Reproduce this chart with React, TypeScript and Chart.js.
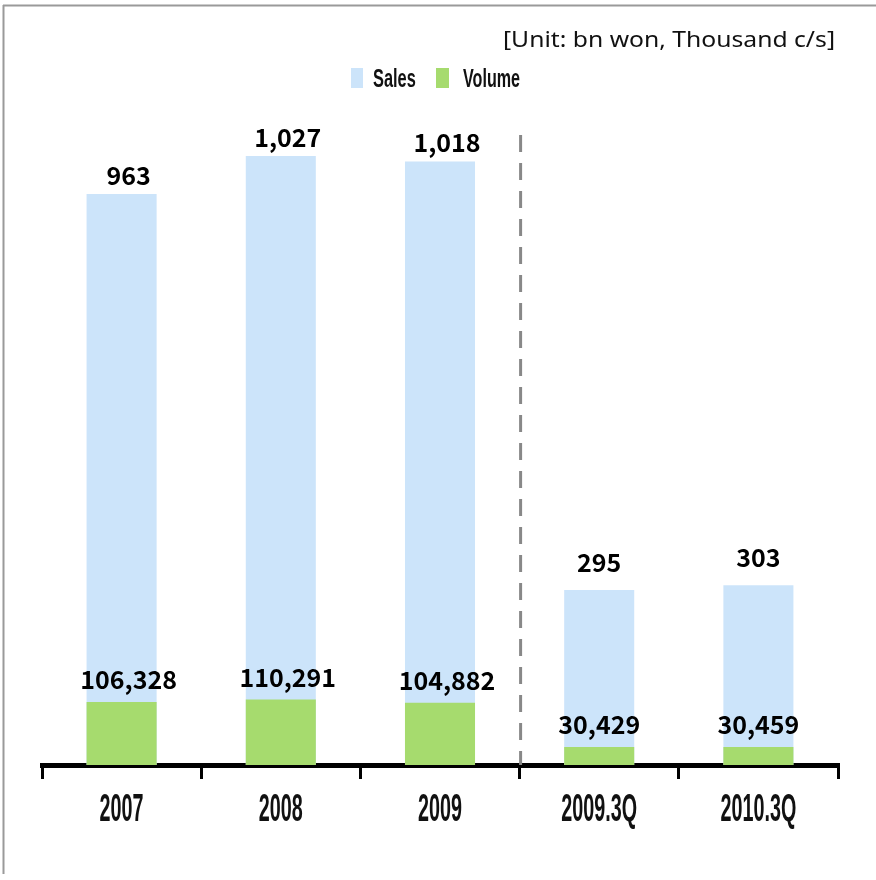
import React, { useEffect, useRef } from "react";
import { Chart, registerables } from "chart.js";

Chart.register(...registerables);

const categories = ["2007", "2008", "2009", "2009.3Q", "2010.3Q"];
const salesValues = [963, 1027, 1018, 295, 303];
const volumeValues = [106328, 110291, 104882, 30429, 30459];
const seriesNames = ["Sales", "Volume"];
const unitLabel = "[Unit: bn won, Thousand c/s]";
const salesMax = 1071;
const volumeMax = 1071000;

const SALES_COLOR = "rgb(204,228,250)";
const VOLUME_COLOR = "rgb(166,219,110)";
const LABEL_FONT = "bold 25px 'Noto Sans CJK KR', 'Noto Sans', sans-serif";
const NARROW_FONT = "'Liberation Sans', Arial, sans-serif";

const isQuarter = (c: string) => c.includes("Q");

function drawNarrow(ctx: CanvasRenderingContext2D, text: string, x: number, y: number, size: number, sx: number, align: "left" | "center") {
  ctx.save();
  ctx.translate(x, y);
  ctx.scale(sx, 1);
  ctx.font = `bold ${size}px ${NARROW_FONT}`;
  ctx.textAlign = align;
  ctx.textBaseline = "alphabetic";
  ctx.fillStyle = "#111";
  ctx.fillText(text, 0, 0);
  ctx.restore();
}

const decorPlugin = {
  id: "decor",
  beforeDraw(chart: any) {
    const ctx = chart.ctx as CanvasRenderingContext2D;
    ctx.save();
    ctx.strokeStyle = "#9a9a9a";
    ctx.lineWidth = 2;
    ctx.beginPath();
    ctx.moveTo(3, 5.5);
    ctx.lineTo(876, 5.5);
    ctx.moveTo(3.5, 5);
    ctx.lineTo(3.5, 874);
    ctx.stroke();
    ctx.restore();
  },
  beforeDatasetsDraw(chart: any) {
    const ctx = chart.ctx as CanvasRenderingContext2D;
    const xs = chart.scales.x;
    const sep = categories.findIndex(isQuarter);
    if (sep > 0) {
      const x = (xs.getPixelForValue(sep - 1) + xs.getPixelForValue(sep)) / 2 + 1;
      ctx.save();
      ctx.strokeStyle = "#888";
      ctx.lineWidth = 3;
      ctx.setLineDash([17, 11]);
      ctx.beginPath();
      ctx.moveTo(x, 135);
      ctx.lineTo(x, chart.chartArea.bottom);
      ctx.stroke();
      ctx.restore();
    }
  },
  afterDraw(chart: any) {
    const ctx = chart.ctx as CanvasRenderingContext2D;
    // data labels
    chart.data.datasets.forEach((ds: any, di: number) => {
      const meta = chart.getDatasetMeta(di);
      meta.data.forEach((el: any, i: number) => {
        const q = isQuarter(categories[i]);
        const off = di === 0 ? (q ? 18 : 9) : 13;
        ctx.save();
        ctx.font = LABEL_FONT;
        ctx.fillStyle = "#000";
        ctx.textAlign = "center";
        ctx.textBaseline = "alphabetic";
        ctx.fillText(Number(ds.data[i]).toLocaleString("en-US"), el.x + (q ? 0 : 7), el.y - off);
        ctx.restore();
      });
    });
    // x labels
    const xs = chart.scales.x;
    categories.forEach((c, i) => {
      drawNarrow(ctx, c, xs.getPixelForValue(i), 821, 38, 0.52, "center");
    });
    // legend
    ctx.save();
    ctx.fillStyle = SALES_COLOR;
    ctx.fillRect(351, 68, 12, 20);
    ctx.fillStyle = VOLUME_COLOR;
    ctx.fillRect(436, 68, 13, 20);
    ctx.restore();
    drawNarrow(ctx, seriesNames[0], 373, 87, 26, 0.63, "left");
    drawNarrow(ctx, seriesNames[1], 463, 87, 26, 0.62, "left");
    // unit
    ctx.save();
    ctx.font = "22px 'Noto Sans', 'DejaVu Sans', sans-serif";
    const w = ctx.measureText(unitLabel).width;
    const targetW = 332;
    ctx.translate(835, 47);
    ctx.scale(targetW / w, 1);
    ctx.fillStyle = "#111";
    ctx.textAlign = "right";
    ctx.textBaseline = "alphabetic";
    ctx.fillText(unitLabel, 0, 0);
    ctx.restore();
  },
};

export default function App() {
  const ref = useRef<HTMLCanvasElement | null>(null);
  useEffect(() => {
    if (!ref.current) return;
    const chart = new Chart(ref.current, {
      type: "bar",
      data: {
        labels: categories,
        datasets: [
          {
            label: seriesNames[0],
            data: salesValues,
            backgroundColor: SALES_COLOR,
            yAxisID: "y",
            grouped: false,
            order: 1,
            barPercentage: 0.44,
            categoryPercentage: 1,
          },
          {
            label: seriesNames[1],
            data: volumeValues,
            backgroundColor: VOLUME_COLOR,
            yAxisID: "y2",
            grouped: false,
            order: 0,
            barPercentage: 0.44,
            categoryPercentage: 1,
          },
        ],
      } as any,
      options: {
        responsive: false,
        animation: false,
        layout: { padding: { left: 42, right: 38, top: 130, bottom: 0 } },
        plugins: { legend: { display: false }, tooltip: { enabled: false } },
        scales: {
          x: {
            offset: true,
            grid: {
              display: true,
              drawOnChartArea: false,
              drawTicks: true,
              tickLength: 14,
              color: "#000",
              lineWidth: 3,
              offset: true,
            },
            border: { display: true, color: "#000", width: 5 },
            ticks: { display: false },
            afterFit: (s: any) => {
              s.height = 115;
            },
          },
          y: { display: false, min: 0, max: salesMax },
          y2: { display: false, min: 0, max: volumeMax },
        },
      } as any,
      plugins: [decorPlugin],
    });
    return () => chart.destroy();
  }, []);
  return (
    <div style={{ position: "absolute", left: 0, top: 0, width: 876, height: 880, background: "#fff" }}>
      <canvas ref={ref} width={876} height={880} style={{ display: "block", width: 876, height: 880 }} />
    </div>
  );
}
